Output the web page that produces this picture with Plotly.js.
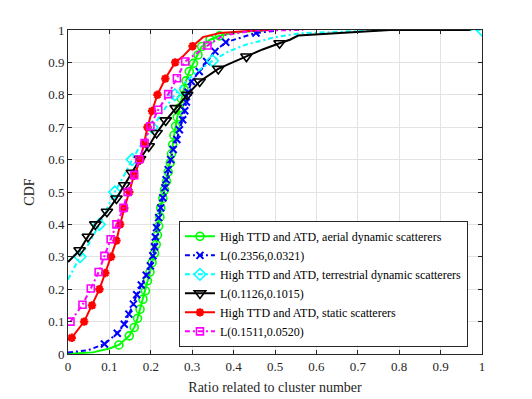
<!DOCTYPE html>
<html>
<head>
<meta charset="utf-8">
<script src="https://cdn.plot.ly/plotly-3.0.1.min.js"></script>
<style>html,body{margin:0;padding:0;background:#fff}</style>
</head>
<body>
<div id="cdf-plot" style="width:532px;height:399px"></div>
<script>
// aerial dynamic scatterers (measured)
const aerialLineX = [0, 0.06, 0.10, 0.123, 0.148, 0.160, 0.168, 0.174, 0.181, 0.187, 0.192, 0.198, 0.203, 0.209, 0.213, 0.216, 0.219, 0.222, 0.224, 0.229, 0.233, 0.238, 0.242, 0.247, 0.250, 0.253, 0.256, 0.260, 0.264, 0.269, 0.274, 0.280, 0.285, 0.293, 0.303, 0.314, 0.323, 0.343, 0.366, 0.407, 0.471];
const aerialLineY = [0.001, 0.005, 0.017, 0.028, 0.056, 0.082, 0.110, 0.138, 0.169, 0.195, 0.226, 0.253, 0.282, 0.311, 0.338, 0.367, 0.395, 0.423, 0.451, 0.480, 0.506, 0.533, 0.562, 0.590, 0.618, 0.646, 0.675, 0.703, 0.731, 0.759, 0.788, 0.817, 0.843, 0.872, 0.897, 0.923, 0.949, 0.970, 0.982, 0.993, 0.998];
const aerialMarkX = [0.123, 0.148, 0.160, 0.168, 0.174, 0.181, 0.187, 0.192, 0.198, 0.203, 0.209, 0.213, 0.216, 0.219, 0.222, 0.224, 0.229, 0.233, 0.238, 0.242, 0.247, 0.250, 0.253, 0.256, 0.260, 0.264, 0.269, 0.274, 0.280, 0.285, 0.293, 0.303, 0.314, 0.323, 0.343, 0.366];
const aerialMarkY = [0.028, 0.056, 0.082, 0.110, 0.138, 0.169, 0.195, 0.226, 0.253, 0.282, 0.311, 0.338, 0.367, 0.395, 0.423, 0.451, 0.480, 0.506, 0.533, 0.562, 0.590, 0.618, 0.646, 0.675, 0.703, 0.731, 0.759, 0.788, 0.817, 0.843, 0.872, 0.897, 0.923, 0.949, 0.970, 0.982];

// Laplace fit L(0.2356,0.0321)
const aerialFitX = [0, 0.047, 0.088, 0.119, 0.136, 0.147, 0.158, 0.166, 0.177, 0.189, 0.199, 0.205, 0.209, 0.211, 0.214, 0.219, 0.224, 0.229, 0.234, 0.237, 0.242, 0.248, 0.254, 0.263, 0.269, 0.277, 0.282, 0.286, 0.290, 0.298, 0.317, 0.335, 0.355, 0.381, 0.454, 0.50];
const aerialFitY = [0.005, 0.011, 0.031, 0.064, 0.092, 0.123, 0.154, 0.183, 0.213, 0.243, 0.272, 0.303, 0.331, 0.361, 0.390, 0.421, 0.451, 0.482, 0.513, 0.538, 0.569, 0.600, 0.631, 0.662, 0.692, 0.723, 0.751, 0.778, 0.808, 0.841, 0.872, 0.903, 0.934, 0.962, 0.991, 0.997];
const aerialFitMarkX = [0.088, 0.119, 0.136, 0.147, 0.158, 0.166, 0.177, 0.189, 0.199, 0.205, 0.209, 0.211, 0.214, 0.219, 0.224, 0.229, 0.234, 0.237, 0.242, 0.248, 0.254, 0.263, 0.269, 0.277, 0.282, 0.286, 0.290, 0.298, 0.317, 0.335, 0.355, 0.381, 0.454];
const aerialFitMarkY = [0.031, 0.064, 0.092, 0.123, 0.154, 0.183, 0.213, 0.243, 0.272, 0.303, 0.331, 0.361, 0.390, 0.421, 0.451, 0.482, 0.513, 0.538, 0.569, 0.600, 0.631, 0.662, 0.692, 0.723, 0.751, 0.778, 0.808, 0.841, 0.872, 0.903, 0.934, 0.962, 0.991];

// terrestrial dynamic scatterers (measured)
const terrLineX = [0, 0.012, 0.029, 0.05, 0.076, 0.095, 0.113, 0.135, 0.155, 0.178, 0.203, 0.23, 0.258, 0.28, 0.31, 0.349, 0.39, 0.43, 0.47, 0.50, 0.56, 0.70, 0.77, 1.0];
const terrLineY = [0.23, 0.26, 0.30, 0.34, 0.40, 0.45, 0.50, 0.55, 0.60, 0.65, 0.70, 0.75, 0.80, 0.835, 0.87, 0.905, 0.935, 0.955, 0.968, 0.978, 0.99, 0.997, 1.0, 1.0];
const terrMarkX = [0.029, 0.076, 0.113, 0.155, 0.203, 0.258, 0.349, 1.0];
const terrMarkY = [0.30, 0.40, 0.50, 0.60, 0.70, 0.80, 0.905, 1.0];

// Laplace fit L(0.1126,0.1015)
const terrFitX = [0, 0.028, 0.048, 0.066, 0.094, 0.117, 0.136, 0.154, 0.174, 0.195, 0.214, 0.236, 0.260, 0.288, 0.318, 0.363, 0.392, 0.431, 0.47, 0.511, 0.536, 0.556, 0.70, 0.778, 0.972];
const terrFitY = [0.284, 0.320, 0.362, 0.400, 0.439, 0.480, 0.521, 0.559, 0.602, 0.641, 0.682, 0.721, 0.759, 0.800, 0.841, 0.880, 0.897, 0.918, 0.94, 0.959, 0.970, 0.983, 0.995, 1.0, 1.0];
const terrFitMarkX = [0.028, 0.048, 0.066, 0.094, 0.117, 0.136, 0.154, 0.174, 0.195, 0.214, 0.236, 0.260, 0.288, 0.318, 0.363, 0.431, 0.511];
const terrFitMarkY = [0.320, 0.362, 0.400, 0.439, 0.480, 0.521, 0.559, 0.602, 0.641, 0.682, 0.721, 0.759, 0.800, 0.841, 0.880, 0.918, 0.959];

// static scatterers (measured)
const staticLineX = [0, 0.009, 0.039, 0.058, 0.076, 0.090, 0.104, 0.117, 0.126, 0.136, 0.148, 0.159, 0.175, 0.184, 0.192, 0.203, 0.216, 0.235, 0.259, 0.277, 0.301, 0.326, 0.367, 0.447, 0.49];
const staticLineY = [0.045, 0.05, 0.10, 0.15, 0.20, 0.25, 0.30, 0.35, 0.40, 0.45, 0.50, 0.55, 0.60, 0.65, 0.70, 0.75, 0.80, 0.85, 0.90, 0.918, 0.95, 0.978, 0.991, 0.998, 1.0];
const staticMarkX = [0.009, 0.039, 0.058, 0.076, 0.090, 0.104, 0.117, 0.126, 0.136, 0.148, 0.159, 0.175, 0.184, 0.192, 0.203, 0.216, 0.235, 0.259, 0.301];
const staticMarkY = [0.05, 0.10, 0.15, 0.20, 0.25, 0.30, 0.35, 0.40, 0.45, 0.50, 0.55, 0.60, 0.65, 0.70, 0.75, 0.80, 0.85, 0.90, 0.95];

// Laplace fit L(0.1511,0.0520)
const staticFitX = [0.006, 0.035, 0.055, 0.074, 0.088, 0.103, 0.117, 0.134, 0.144, 0.160, 0.172, 0.185, 0.199, 0.218, 0.242, 0.263, 0.283, 0.337, 0.375, 0.447, 0.568];
const staticFitY = [0.100, 0.152, 0.202, 0.253, 0.303, 0.354, 0.400, 0.451, 0.500, 0.552, 0.601, 0.651, 0.703, 0.754, 0.802, 0.851, 0.903, 0.952, 0.983, 0.998, 1.0];
const staticFitMarkX = [0.006, 0.035, 0.055, 0.074, 0.088, 0.103, 0.117, 0.134, 0.144, 0.160, 0.172, 0.185, 0.199, 0.218, 0.242, 0.263, 0.283, 0.337];
const staticFitMarkY = [0.100, 0.152, 0.202, 0.253, 0.303, 0.354, 0.400, 0.451, 0.500, 0.552, 0.601, 0.651, 0.703, 0.754, 0.802, 0.851, 0.903, 0.952];

const axisTicks = [0, 0.1, 0.2, 0.3, 0.4, 0.5, 0.6, 0.7, 0.8, 0.9, 1];

const SERIF = "Liberation Serif, Times New Roman, serif";
const DASHDOT = "5px,3px,2px,3px";

function buildSeries(name, lineX, lineY, markX, markY, color, dash, symbol, size, mlw) {
  const line = { color: color, width: 2, dash: dash };
  const marker = { symbol: symbol, size: size, color: color, line: { color: color, width: mlw || 1.6 } };
  return [
    { type: "scatter", mode: "lines", x: lineX, y: lineY, line: line, showlegend: false, hoverinfo: "skip" },
    { type: "scatter", mode: "markers", x: markX, y: markY, marker: marker, showlegend: false },
    // legend entry only
    { type: "scatter", mode: "lines+markers", x: [null], y: [null], name: name, line: line, marker: marker }
  ];
}

const traces = [].concat(
  buildSeries("High TTD and ATD, aerial dynamic scatterers", aerialLineX, aerialLineY, aerialMarkX, aerialMarkY, "#00ff00", "solid", "circle-open", 8),
  buildSeries("L(0.2356,0.0321)", aerialFitX, aerialFitY, aerialFitMarkX, aerialFitMarkY, "#0000ff", DASHDOT, "x-thin-open", 7, 2),
  buildSeries("High TTD and ATD, terrestrial dynamic scatterers", terrLineX, terrLineY, terrMarkX, terrMarkY, "#00ffff", DASHDOT, "diamond-open", 9),
  buildSeries("L(0.1126,0.1015)", terrFitX, terrFitY, terrFitMarkX, terrFitMarkY, "#000000", "solid", "triangle-down-open", 10),
  buildSeries("High TTD and ATD, static scatterers", staticLineX, staticLineY, staticMarkX, staticMarkY, "#ff0000", "solid", "asterisk-open", 7, 2.4),
  buildSeries("L(0.1511,0.0520)", staticFitX, staticFitY, staticFitMarkX, staticFitMarkY, "#ff00ff", DASHDOT, "square-open", 7)
);

const axisStyle = {
  range: [0, 1],
  tickvals: axisTicks,
  ticktext: axisTicks.map(String),
  ticks: "inside",
  ticklen: 4,
  tickcolor: "#262626",
  showline: true,
  linecolor: "#262626",
  linewidth: 1,
  mirror: "ticks",
  showgrid: true,
  gridcolor: "#e3e3e3",
  zeroline: false,
  tickfont: { family: SERIF, size: 13, color: "#262626" }
};

const layout = {
  width: 532,
  height: 399,
  margin: { l: 68, r: 50, t: 30, b: 45 },
  paper_bgcolor: "#ffffff",
  plot_bgcolor: "#ffffff",
  font: { family: SERIF, color: "#262626" },
  xaxis: Object.assign({}, axisStyle, {
    title: { text: "Ratio related to cluster number", font: { size: 14, family: SERIF }, standoff: 9 }
  }),
  yaxis: Object.assign({}, axisStyle, {
    title: { text: "CDF", font: { size: 14, family: SERIF }, standoff: 10 }
  }),
  legend: {
    x: 0.268, y: 0.022, xanchor: "left", yanchor: "bottom",
    bgcolor: "#ffffff", bordercolor: "#262626", borderwidth: 1,
    font: { family: SERIF, size: 12, color: "#000000" },
    tracegroupgap: 0
  },
  showlegend: true
};

Plotly.newPlot("cdf-plot", traces, layout, { displayModeBar: false, staticPlot: true });
</script>
</body>
</html>
